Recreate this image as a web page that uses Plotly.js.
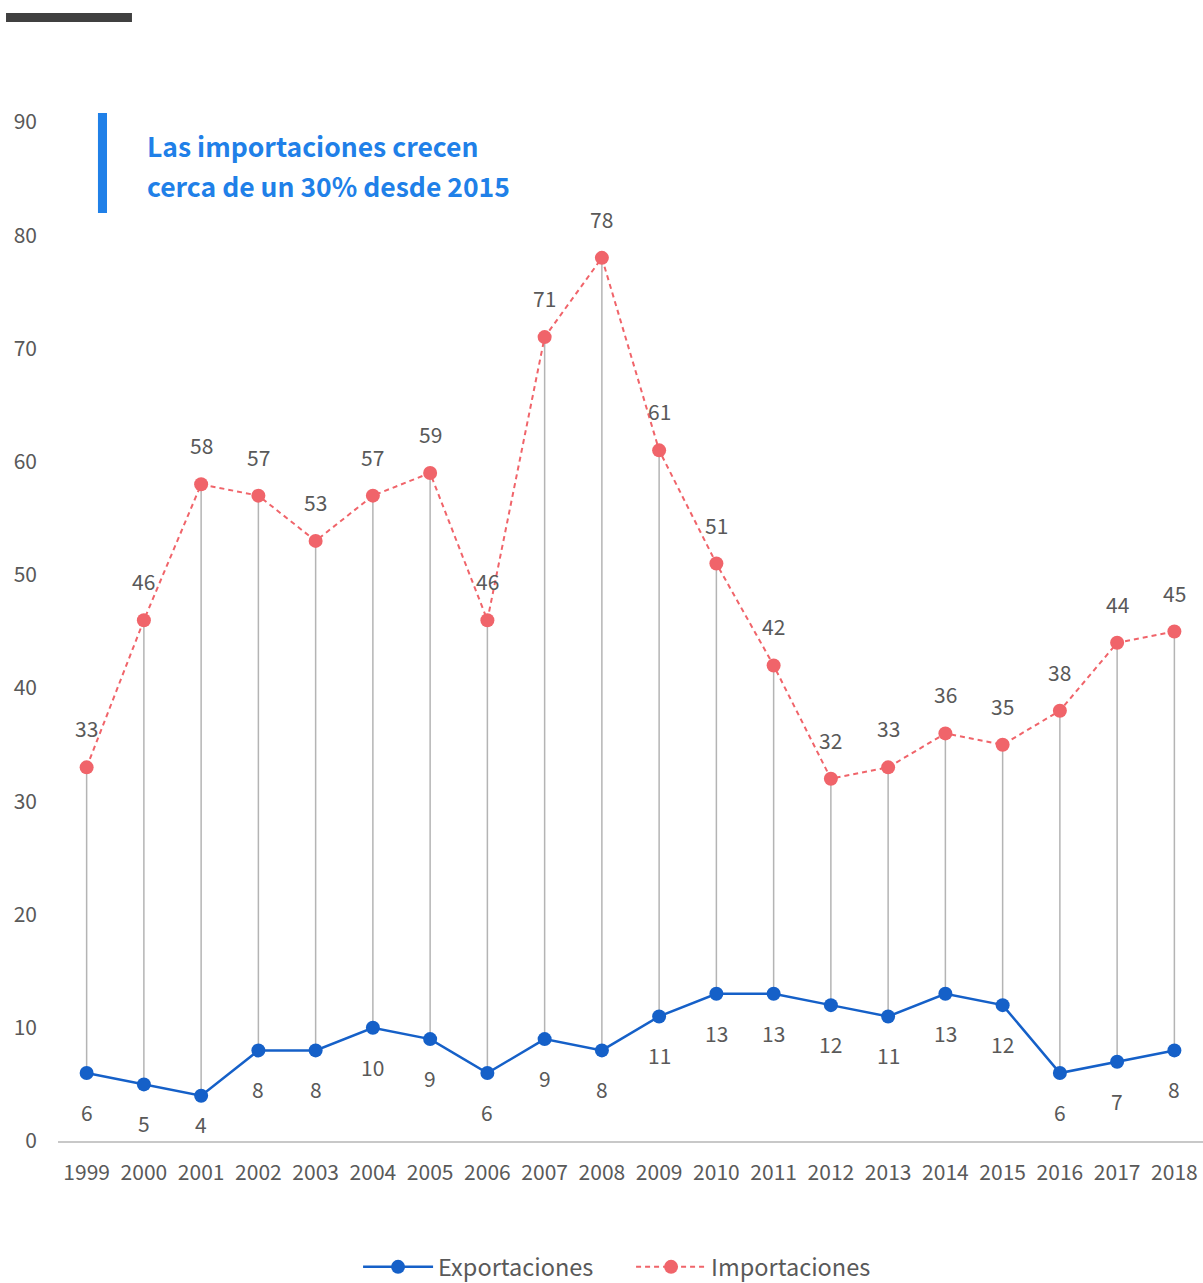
<!DOCTYPE html>
<html><head><meta charset="utf-8">
<script src="https://cdn.plot.ly/plotly-3.0.1.min.js"></script>
<style>html,body{margin:0;padding:0;background:#fff}#chart{width:1203px;height:1283px}</style>
</head><body><div id="chart"></div>
<script>
const years = ['1999','2000','2001','2002','2003','2004','2005','2006','2007','2008','2009','2010','2011','2012','2013','2014','2015','2016','2017','2018'];
const exportaciones = [6,5,4,8,8,10,9,6,9,8,11,13,13,12,11,13,12,6,7,8];
const importaciones = [33,46,58,57,53,57,59,46,71,78,61,51,42,32,33,36,35,38,44,45];
const titleLines = ['Las importaciones crecen','cerca de un 30% desde 2015'];

const FONT = '"Noto Sans CJK JP", "Noto Sans", sans-serif';
const BLUE = '#1560c8', RED = '#f0646a', GREY = '#595959';
const idx = years.map((_,i)=>i);

const W = 1203, H = 1283, M = {l:58,r:0,t:122,b:142};
const yMax = 90;
const pxPerUnit = (H - M.t - M.b) / yMax;

const dropX = [], dropY = [];
idx.forEach(i=>{dropX.push(i,i,null);dropY.push(exportaciones[i],importaciones[i],null);});

const traces = [
  {x:dropX,y:dropY,mode:'lines',line:{color:'#b4b4b4',width:1.5},showlegend:false,hoverinfo:'skip',connectgaps:false},
  {x:idx,y:exportaciones,name:'Exportaciones',mode:'lines+markers',line:{color:BLUE,width:2.5},marker:{color:BLUE,size:14}},
  {x:idx,y:importaciones,name:'Importaciones',mode:'lines+markers',line:{color:RED,width:2,dash:'5px,4px'},marker:{color:RED,size:14}}
];

const annotations = [];
idx.forEach(i=>{
  const down = Math.min(39, exportaciones[i]*pxPerUnit - 17);
  annotations.push({x:i,y:exportaciones[i],text:String(exportaciones[i]),showarrow:false,yshift:-down,font:{family:FONT,size:21,color:GREY}});
  annotations.push({x:i,y:importaciones[i],text:String(importaciones[i]),showarrow:false,yshift:39,font:{family:FONT,size:21,color:GREY}});
});
annotations.push({xref:'paper',yref:'paper',x:0.0762,y:0.9774,xanchor:'left',yanchor:'middle',showarrow:false,text:'<b>'+titleLines[0]+'</b>',font:{family:FONT,size:26.5,color:'#2080e8'}});
annotations.push({xref:'paper',yref:'paper',x:0.0762,y:0.9372,xanchor:'left',yanchor:'middle',showarrow:false,text:'<b>'+titleLines[1]+'</b>',font:{family:FONT,size:26.5,color:'#2080e8'}});

const layout = {
  width:W,height:H,
  margin:{l:M.l,r:M.r,t:M.t,b:M.b,autoexpand:false},
  paper_bgcolor:'#fff',plot_bgcolor:'#fff',
  font:{family:FONT,color:GREY,size:21},
  xaxis:{range:[-0.5,19.5],tickvals:idx,ticktext:years,showgrid:false,zeroline:false,showline:true,linecolor:'#c8c8c8',linewidth:1.5,ticks:'',tickfont:{size:21,color:GREY},ticklabelstandoff:12},
  yaxis:{range:[0,yMax],dtick:10,showgrid:false,zeroline:false,showline:false,ticks:'',tickfont:{size:21,color:GREY},ticklabelstandoff:20},
  legend:{orientation:'h',x:0.5005,xanchor:'center',y:-0.1237,yanchor:'middle',font:{size:23.5,color:GREY},itemwidth:70,entrywidth:188,entrywidthmode:'pixels',traceorder:'normal',tracegroupgap:0},
  shapes:[
    {type:'rect',xref:'paper',yref:'paper',x0:0.0349,x1:0.0428,y0:0.9107,y1:1.0088,fillcolor:'#2080e8',line:{width:0}},
    {type:'rect',xref:'paper',yref:'paper',x0:-0.0454,x1:0.0646,y0:1.0981,y1:1.107,fillcolor:'#404040',line:{width:0}}
  ],
  annotations:annotations,
  showlegend:true
};
Plotly.newPlot('chart',traces,layout,{displayModeBar:false});
</script></body></html>
